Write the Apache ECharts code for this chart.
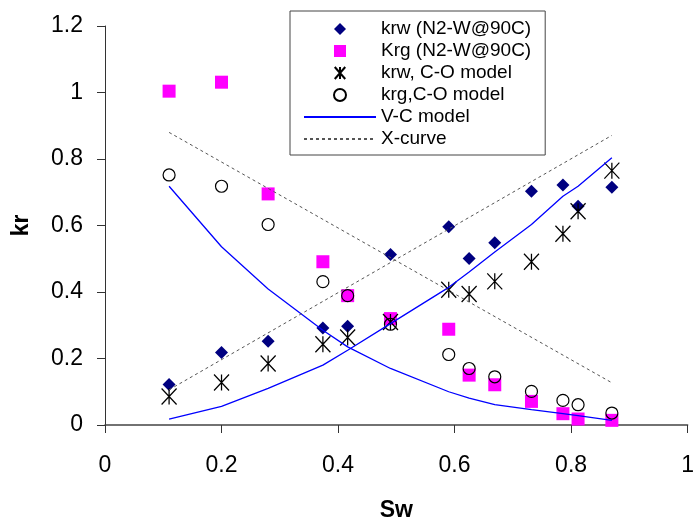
<!DOCTYPE html>
<html>
<head>
<meta charset="utf-8">
<script src="https://cdn.jsdelivr.net/npm/echarts@6/dist/echarts.min.js"></script>
<style>
    html, body { margin: 0; padding: 0; background: #fff; }
    #chart { width: 697px; height: 527px; }
</style>
</head>
<body>
<div id="chart"></div>
<script>
// water saturation values shared by all measured / model series
const swData = [0.11, 0.20, 0.28, 0.374, 0.4165, 0.49, 0.59, 0.625, 0.669, 0.732, 0.786, 0.812, 0.87];

const krwN2 = [0.122, 0.218, 0.252, 0.292, 0.297, 0.513, 0.596, 0.501, 0.548, 0.703, 0.722, 0.658, 0.715];
const krgN2 = [1.004, 1.031, 0.695, 0.491, 0.389, 0.320, 0.288, 0.150, 0.121, 0.071, 0.034, 0.018, 0.014];
const krwCO = [0.086, 0.128, 0.185, 0.243, 0.263, 0.310, 0.407, 0.394, 0.432, 0.491, 0.575, 0.643, 0.765];
const krgCO = [0.752, 0.718, 0.603, 0.431, 0.389, 0.303, 0.212, 0.170, 0.145, 0.101, 0.074, 0.061, 0.036];
const krwVC = [0.018, 0.056, 0.110, 0.180, 0.225, 0.305, 0.414, 0.460, 0.520, 0.603, 0.688, 0.718, 0.804];
const krgVC = [0.718, 0.536, 0.409, 0.285, 0.235, 0.170, 0.100, 0.081, 0.061, 0.046, 0.034, 0.028, 0.014];

// X-curve end points
const xCurveSw = [0.11, 0.87];
const xCurveKrw = [0.106, 0.871];
const xCurveKrg = [0.88, 0.127];

const xTicks = [0, 0.2, 0.4, 0.6, 0.8, 1];
const yTicks = [0, 0.2, 0.4, 0.6, 0.8, 1, 1.2];

const FONT = "'Liberation Sans', Arial, sans-serif";
const ASTERISK = 'path://M0,0L14,16M14,0L0,16M7,0L7,16';
// path icons so the legend keeps their aspect
const DIAMOND = 'path://M5,0L10,5L5,10L0,5Z';
const SQUARE = 'path://M0,0L10,0L10,10L0,10Z';

const pairs = (xs, ys) => xs.map((x, i) => [x, ys[i]]);

const axisCommon = {
    type: 'value',
    axisLine: { show: true, lineStyle: { color: '#333', width: 1 } },
    axisTick: { show: true, length: 8, lineStyle: { color: '#333' } },
    splitLine: { show: false },
    axisLabel: { color: '#000', fontSize: 23, fontFamily: FONT },
    nameLocation: 'middle',
    nameTextStyle: { color: '#000', fontSize: 23, fontWeight: 'bold', fontFamily: FONT },
};

const option = {
    animation: false,
    backgroundColor: '#fff',
    grid: { left: 105, right: 3, top: 26, bottom: 98 },
    legend: {
        orient: 'vertical',
        left: 290,
        top: 11,
        padding: [7, 14, 5, 13],
        itemGap: 0,
        itemWidth: 72,
        itemHeight: 12,
        symbolKeepAspect: true,
        borderColor: '#444',
        borderWidth: 1,
        backgroundColor: '#fff',
        textStyle: { color: '#000', fontSize: 19, fontFamily: FONT, lineHeight: 22 },
        data: [
            { name: 'krw (N2-W@90C)', icon: DIAMOND },
            { name: 'Krg (N2-W@90C)', icon: SQUARE },
            { name: 'krw, C-O model', icon: ASTERISK },
            { name: 'krg,C-O model', icon: 'circle' },
            { name: 'V-C model', itemStyle: { opacity: 0 } },
            { name: 'X-curve', itemStyle: { opacity: 0 } },
        ],
    },
    xAxis: {
        ...axisCommon,
        min: xTicks[0],
        max: xTicks[xTicks.length - 1],
        interval: 0.2,
        axisLabel: { ...axisCommon.axisLabel, margin: 29 },
        axisLine: { show: true, lineStyle: { color: '#444', width: 1.5 } },
        name: 'Sw',
        nameGap: 74,
    },
    yAxis: {
        ...axisCommon,
        min: yTicks[0],
        max: yTicks[yTicks.length - 1],
        interval: 0.2,
        axisLabel: { ...axisCommon.axisLabel, margin: 22 },
        name: 'kr',
        nameGap: 72,
    },
    series: [
        {
            name: 'krw (N2-W@90C)',
            type: 'scatter',
            symbol: 'diamond',
            symbolSize: 13,
            itemStyle: { color: '#000080', opacity: 1 },
            data: pairs(swData, krwN2),
        },
        {
            name: 'Krg (N2-W@90C)',
            type: 'scatter',
            symbol: 'rect',
            symbolSize: 13,
            itemStyle: { color: '#FF00FF', opacity: 1 },
            data: pairs(swData, krgN2),
        },
        {
            name: 'krw, C-O model',
            type: 'scatter',
            symbol: ASTERISK,
            symbolSize: [15, 16],
            itemStyle: { color: '#000', borderColor: '#000', borderWidth: 1.3, opacity: 1 },
            data: pairs(swData, krwCO),
        },
        {
            name: 'krg,C-O model',
            type: 'scatter',
            symbol: 'circle',
            symbolSize: 12,
            itemStyle: { color: 'rgba(0,0,0,0)', borderColor: '#000', borderWidth: 1.2, opacity: 1 },
            data: pairs(swData, krgCO),
        },
        {
            name: 'V-C model',
            type: 'line',
            symbol: 'none',
            itemStyle: { color: '#0000FF' },
            lineStyle: { color: '#0000FF', width: 1.3 },
            data: pairs(swData, krwVC),
        },
        {
            name: 'V-C model',
            type: 'line',
            symbol: 'none',
            itemStyle: { color: '#0000FF' },
            lineStyle: { color: '#0000FF', width: 1.3 },
            data: pairs(swData, krgVC),
        },
        {
            name: 'X-curve',
            type: 'line',
            symbol: 'none',
            itemStyle: { color: '#000' },
            lineStyle: { color: '#555', width: 1, type: [3, 3] },
            data: pairs(xCurveSw, xCurveKrw),
        },
        {
            name: 'X-curve',
            type: 'line',
            symbol: 'none',
            itemStyle: { color: '#000' },
            lineStyle: { color: '#555', width: 1, type: [3, 3] },
            data: pairs(xCurveSw, xCurveKrg),
        },
    ],
};

const myChart = echarts.init(document.getElementById('chart'));
myChart.setOption(option);
</script>
</body>
</html>
